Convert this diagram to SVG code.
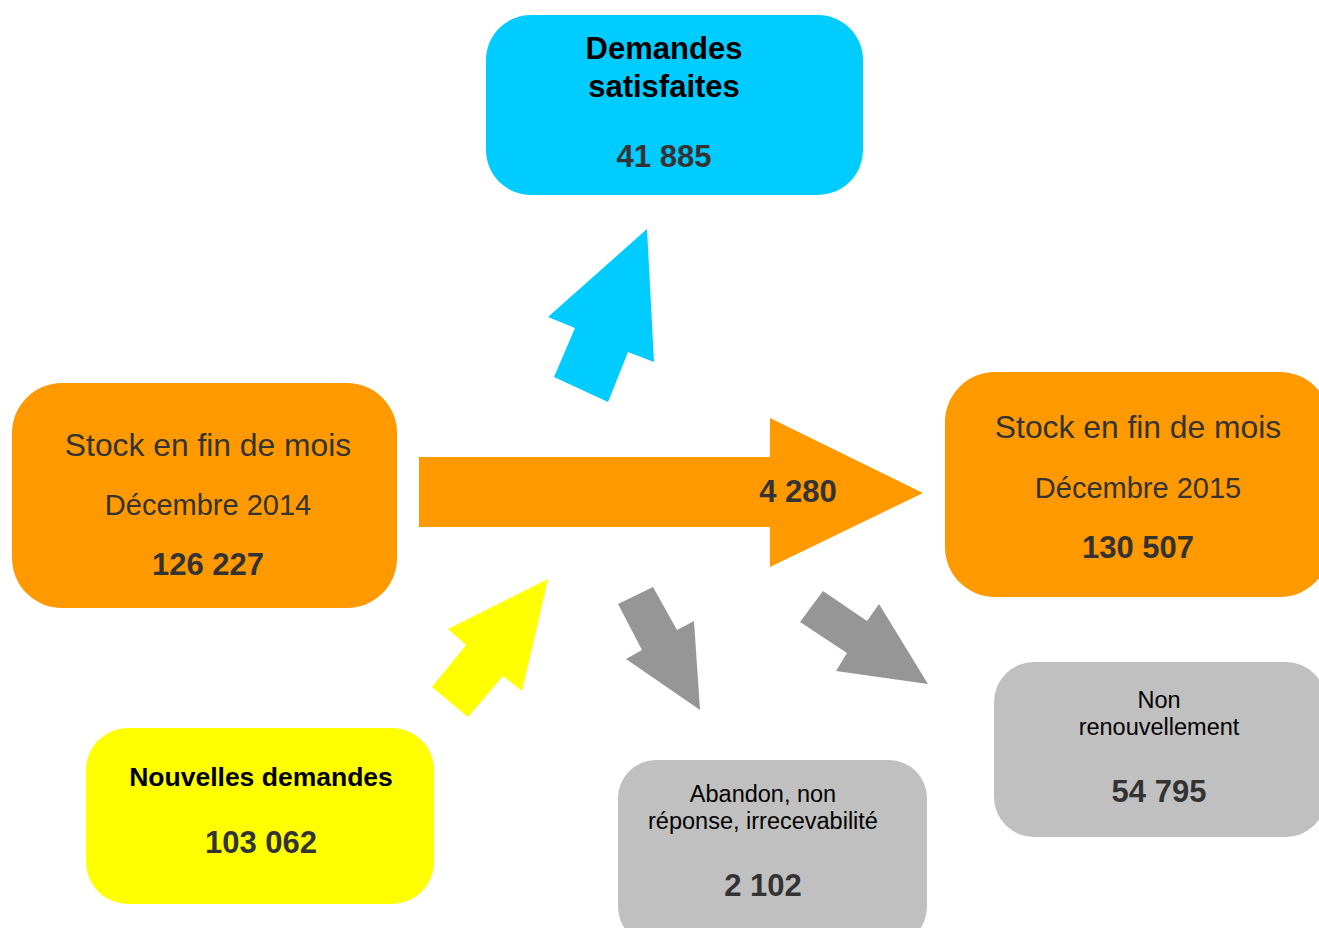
<svg xmlns="http://www.w3.org/2000/svg" width="1319" height="928" viewBox="0 0 1319 928">
<style>
text{font-family:"Liberation Sans",Arial,sans-serif;text-anchor:middle}
.lbl{fill:#333333;font-size:31px}
.num{fill:#333333;font-size:31px;font-weight:bold}
.head{fill:#000000;font-size:31px;font-weight:bold}
.small{fill:#000000;font-size:23.5px}
.orange{fill:#FF9900}
.blue{fill:#00CCFF}
.yellow{fill:#FFFF00}
.grey{fill:#C0C0C0}
.garrow{fill:#969696}
</style>
<rect width="1319" height="928" fill="#ffffff"/>
<g id="connectors">
<polygon class="orange" points="419,457 770,457 770,418 923,493 770,567 770,527 419,527"/>
<polygon class="blue" points="647,229 654,362 628,352 608,402 554,377 575,328 548,317"/>
<polygon class="yellow" points="548,579 522,691 503,676 468,717 432,687 466,645 448,629"/>
<polygon class="garrow" points="618,604 653,587 677,630 694,621 700,710 626,659 642,650"/>
<polygon class="garrow" points="800,622 823,591 867,621 879,604 928,684 836,671 847,653"/>
<text class="num" x="798" y="502">4 280</text>
</g>
<g id="satisfaites">
<rect class="blue" x="486" y="15" width="377" height="180" rx="45" ry="45"/>
<text class="head" x="664" y="59">Demandes</text>
<text class="head" x="664" y="97">satisfaites</text>
<text class="num" x="664" y="167">41 885</text>
</g>
<g id="stock2014">
<rect class="orange" x="12" y="383" width="385" height="225" rx="50" ry="50"/>
<text class="lbl" x="208" y="456" style="font-size:31.8px">Stock en fin de mois</text>
<text class="lbl" x="208" y="515" style="font-size:29px">Décembre 2014</text>
<text class="num" x="208" y="575">126 227</text>
</g>
<g id="stock2015">
<rect class="orange" x="945" y="372" width="385" height="225" rx="50" ry="50"/>
<text class="lbl" x="1138" y="438" style="font-size:31.8px">Stock en fin de mois</text>
<text class="lbl" x="1138" y="498" style="font-size:29px">Décembre 2015</text>
<text class="num" x="1138" y="558">130 507</text>
</g>
<g id="nouvelles">
<rect class="yellow" x="86" y="728" width="348" height="176" rx="42" ry="42"/>
<text class="head" x="261" y="786" style="font-size:26.5px">Nouvelles demandes</text>
<text class="num" x="261" y="853">103 062</text>
</g>
<g id="abandon">
<rect class="grey" x="618" y="760" width="309" height="185" rx="38" ry="38"/>
<text class="small" x="763" y="802">Abandon, non</text>
<text class="small" x="763" y="829">réponse, irrecevabilité</text>
<text class="num" x="763" y="896">2 102</text>
</g>
<g id="nonrenouvellement">
<rect class="grey" x="994" y="662" width="332" height="175" rx="40" ry="40"/>
<text class="small" x="1159" y="708">Non</text>
<text class="small" x="1159" y="735">renouvellement</text>
<text class="num" x="1159" y="802">54 795</text>
</g>
</svg>
